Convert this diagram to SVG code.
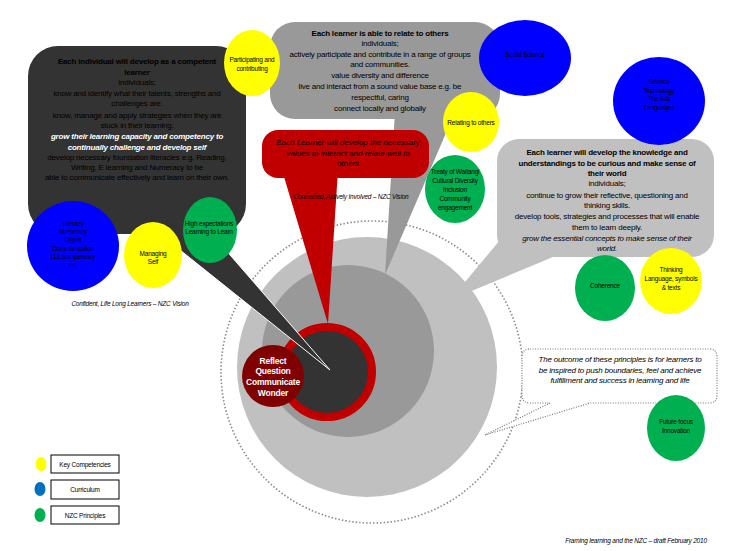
<svg xmlns="http://www.w3.org/2000/svg" width="731" height="551" viewBox="0 0 731 551">
<style>
text{font-family:"Liberation Sans",Arial,sans-serif;text-anchor:middle;fill:#000}
.t{font-size:8px;letter-spacing:-0.2px}
.b{font-weight:bold}
.i{font-style:italic}
.s{font-size:6.5px;letter-spacing:-0.2px}
.w{fill:#fff}
.yel{fill:#ffff00}
.blu{fill:#0000ff}
.grn{fill:#00b050}
.lg{fill:#c0c0c0}
.mg{fill:#999999}
.red{fill:#c00000}
.dk{fill:#333333}
.leg{fill:#fff;stroke:#000;stroke-width:1}
</style>
<rect width="731" height="551" fill="#fff"/>

<g id="rings">
<circle cx="372" cy="372" r="151" fill="none" stroke="#8a8a8a" stroke-width="1.6" stroke-dasharray="1.5 2"/>
<circle class="lg" cx="367" cy="367" r="130"/>
<circle class="mg" cx="348" cy="351" r="86"/>
</g>

<g id="connectors">
<polygon class="lg" points="500,240 565,252 450,300"/>
<polygon class="mg" points="395,112 455,112 385,275"/>
<polygon class="red" points="282,170 338,170 328,324"/>
</g>

<g id="core">
<circle cx="327" cy="372" r="45" fill="#333333" stroke="#c00000" stroke-width="8"/>
</g>

<g id="pointer">
<polygon class="dk" points="130,210 191,210 330,370" stroke="#fff" stroke-width="1"/>
</g>

<g id="competent">
<rect class="dk" x="28" y="46" width="218" height="188" rx="30"/>
<text class="t b" x="137" y="64">Each individual will develop as a competent</text>
<text class="t b" x="137" y="75">learner</text>
<text class="t" x="137" y="85">individuals;</text>
<text class="t" x="137" y="96">know and identify what their talents, strengths and</text>
<text class="t" x="137" y="106">challenges are.</text>
<text class="t" x="137" y="118">know, manage and apply strategies when they are</text>
<text class="t" x="137" y="128">stuck in their learning.</text>
<text class="t b i w" x="137" y="139">grow their learning capacity and competency to</text>
<text class="t b i w" x="137" y="150">continually challenge and develop self</text>
<text class="t" x="137" y="160">develop necessary foundation literacies e.g. Reading,</text>
<text class="t" x="137" y="170">Writing, E learning and Numeracy to be</text>
<text class="t" x="137" y="180">able to communicate effectively and learn on their own.</text>
</g>

<g id="relate">
<rect class="mg" x="270" y="22" width="230" height="97" rx="25"/>
<text class="t b" x="380" y="36">Each learner is able to relate to others</text>
<text class="t" x="380" y="46">individuals;</text>
<text class="t" x="380" y="57">actively participate and contribute in a range of groups</text>
<text class="t" x="380" y="67">and communities.</text>
<text class="t" x="380" y="78">value diversity and difference</text>
<text class="t" x="380" y="89">live and interact from a sound value base e.g. be</text>
<text class="t" x="380" y="100">respectful, caring</text>
<text class="t" x="380" y="111">connect locally and globally</text>
</g>

<g id="curious">
<rect class="lg" x="497" y="139" width="217" height="118" rx="22"/>
<text class="t b" x="607" y="155">Each learner will develop the knowledge and</text>
<text class="t b" x="607" y="166">understandings to be curious and make sense of</text>
<text class="t b" x="607" y="176">their world</text>
<text class="t" x="607" y="186">individuals;</text>
<text class="t" x="607" y="198">continue to grow their reflective, questioning and</text>
<text class="t" x="607" y="208">thinking skills.</text>
<text class="t" x="607" y="219">develop tools, strategies and processes that will enable</text>
<text class="t" x="607" y="230">them to learn deeply.</text>
<text class="t i" x="607" y="241">grow the essential concepts to make sense of their</text>
<text class="t i" x="607" y="251">world.</text>
</g>

<g id="values">
<rect class="red" x="262" y="130" width="167" height="48" rx="16"/>
<text class="t i" x="348" y="145" style="letter-spacing:0">Each Learner will develop the necessary</text>
<text class="t i" x="348" y="156" style="letter-spacing:0">values to interact and relate well to</text>
<text class="t i" x="348" y="166" style="letter-spacing:0">others</text>
</g>

<g id="participating">
<ellipse class="yel" cx="252" cy="63" rx="28" ry="33"/>
<text class="s" x="252" y="62">Participating and</text>
<text class="s" x="252" y="71">contributing</text>
</g>

<g id="social">
<ellipse class="blu" cx="525" cy="58" rx="46" ry="38"/>
<text class="s" x="525" y="57">Social Science</text>
</g>

<g id="relating">
<ellipse class="yel" cx="471" cy="122" rx="28" ry="30"/>
<text class="s" x="471" y="125">Relating to others</text>
</g>

<g id="science">
<ellipse class="blu" cx="659" cy="101" rx="46" ry="44"/>
<text class="s" x="659" y="84">Science</text>
<text class="s" x="659" y="93">Technology</text>
<text class="s" x="659" y="101">The Arts</text>
<text class="s" x="659" y="110">Languages</text>
</g>

<g id="treaty">
<ellipse class="grn" cx="455" cy="189" rx="30" ry="34"/>
<text class="s" x="455" y="174">Treaty of Waitangi</text>
<text class="s" x="455" y="183">Cultural Diversity</text>
<text class="s" x="455" y="192">Inclusion</text>
<text class="s" x="455" y="201">Community</text>
<text class="s" x="455" y="210">engagement</text>
</g>

<g id="literacy">
<ellipse class="blu" cx="73" cy="246" rx="46" ry="45"/>
<text class="s" x="73" y="226">Literacy</text>
<text class="s" x="73" y="234">Numeracy</text>
<text class="s" x="73" y="242">Digital</text>
<text class="s" x="73" y="251">Communication</text>
<text class="s" x="73" y="259">LLL competency</text>
<text class="s" x="73" y="268">PE</text>
</g>

<g id="managing">
<ellipse class="yel" cx="153" cy="255" rx="29" ry="33"/>
<text class="s" x="153" y="256">Managing</text>
<text class="s" x="153" y="264">Self</text>
</g>

<g id="expectations">
<ellipse class="grn" cx="210" cy="230" rx="27" ry="33"/>
<text class="s" x="209" y="226">High expectations</text>
<text class="s" x="209" y="234">Learning to Learn</text>
</g>

<g id="coherence">
<ellipse class="grn" cx="605" cy="288" rx="30" ry="33"/>
<text class="s" x="605" y="288">Coherence</text>
</g>

<g id="thinking">
<ellipse class="yel" cx="671" cy="281" rx="31" ry="33"/>
<text class="s" x="671" y="272">Thinking</text>
<text class="s" x="671" y="281">Language, symbols</text>
<text class="s" x="671" y="290">&amp; texts</text>
</g>

<g id="reflect">
<circle cx="273" cy="376" r="31" fill="#800000"/>
<text class="b w" x="273" y="364" style="font-size:8.5px;letter-spacing:-0.2px">Reflect</text>
<text class="b w" x="273" y="374" style="font-size:8.5px;letter-spacing:-0.2px">Question</text>
<text class="b w" x="273" y="385" style="font-size:8.5px;letter-spacing:-0.2px">Communicate</text>
<text class="b w" x="273" y="396" style="font-size:8.5px;letter-spacing:-0.2px">Wonder</text>
</g>

<g id="outcome">
<path d="M530,349 H709 Q717,349 717,357 V395 Q717,403 709,403 H590 L485,435 L550,403 H530 Q522,403 522,395 V357 Q522,349 530,349 Z" fill="#fff" stroke="#777" stroke-width="1.2" stroke-dasharray="1 1.5"/>
<text class="t i" x="620" y="362">The outcome of these principles is for learners to</text>
<text class="t i" x="620" y="373">be inspired to push boundaries, feel and achieve</text>
<text class="t i" x="620" y="383">fulfillment and success in learning and life</text>
</g>

<g id="future">
<ellipse class="grn" cx="676" cy="428" rx="29" ry="33"/>
<text class="s" x="676" y="424">Future focus</text>
<text class="s" x="676" y="433">Innovation</text>
</g>

<g id="captions">
<text class="s i" x="130" y="306">Confident, Life Long Learners – NZC Vision</text>
<text class="s i" x="351" y="199">Connected, Actively Involved – NZC Vision</text>
<text class="s i" x="636" y="543">Framing learning and the NZC – draft February 2010</text>
</g>

<g id="legend">
<ellipse class="yel" cx="41" cy="464" rx="5.5" ry="7"/>
<rect class="leg" x="51" y="455" width="68" height="18"/>
<text class="s" x="85" y="467">Key Competencies</text>
<ellipse cx="40" cy="489" rx="5.5" ry="7" fill="#0070c0"/>
<rect class="leg" x="51" y="480" width="68" height="19"/>
<text class="s" x="85" y="492">Curriculum</text>
<ellipse class="grn" cx="40" cy="515" rx="5.5" ry="7"/>
<rect class="leg" x="51" y="506" width="68" height="18"/>
<text class="s" x="85" y="518">NZC Principles</text>
</g>
</svg>
